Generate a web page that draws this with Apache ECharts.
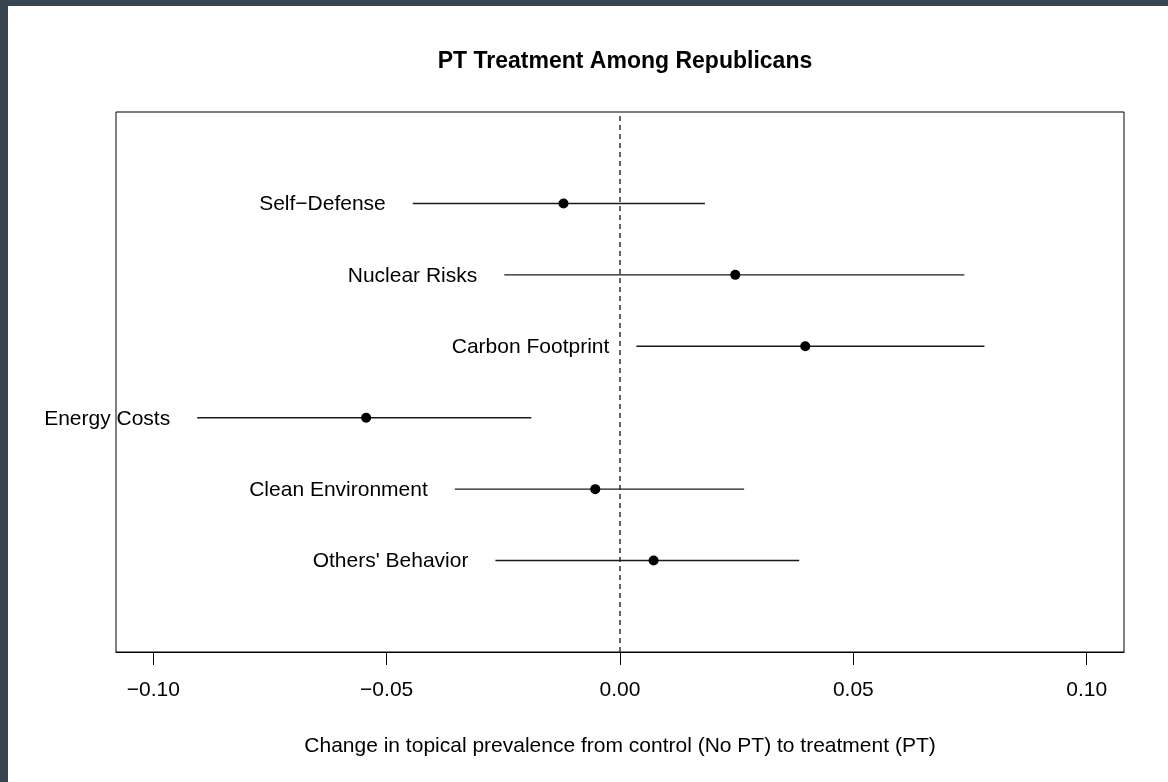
<!DOCTYPE html>
<html>
<head>
<meta charset="utf-8">
<title>PT Treatment Among Republicans</title>
<script src="https://cdn.jsdelivr.net/npm/echarts@6/dist/echarts.min.js"></script>
<style>
  html, body { margin: 0; padding: 0; background: #36454f; width: 1168px; height: 782px; overflow: hidden; }
  #chart { position: absolute; left: 8px; top: 6px; width: 1160px; height: 776px; background: #ffffff; }
</style>
</head>
<body>
<div id="chart"></div>
<script>
// Topics, listed from top to bottom
const topics = ['Self\u2212Defense', 'Nuclear Risks', 'Carbon Footprint', 'Energy Costs', 'Clean Environment', "Others' Behavior"];
// Point estimates of the change in topical prevalence
const estimates = [-0.0121, 0.0247, 0.0397, -0.0544, -0.0053, 0.0072];
// 95% interval bounds
const lowers = [-0.0444, -0.0248, 0.0035, -0.0906, -0.0354, -0.0267];
const uppers = [0.0182, 0.0738, 0.0781, -0.0190, 0.0266, 0.0384];
// Tick positions and labels on the x axis
const xTicks = [-0.10, -0.05, 0.00, 0.05, 0.10];
const xTickLabels = ['\u22120.10', '\u22120.05', '0.00', '0.05', '0.10'];

const FONT = '"Liberation Sans", Arial, Helvetica, sans-serif';

// Each topic sits at an integer height: top row highest
const rows = topics.map((t, i) => [estimates[i], topics.length - i, lowers[i], uppers[i], t]);

const chart = echarts.init(document.getElementById('chart'), null, { renderer: 'canvas' });

chart.setOption({
  animation: false,
  backgroundColor: '#ffffff',
  title: {
    text: 'PT Treatment Among Republicans',
    left: 612,
    top: 39,
    textAlign: 'center',
    textStyle: { fontFamily: FONT, fontWeight: 'bold', fontSize: 23, color: '#000' }
  },
  grid: {
    left: 108, top: 106, right: 44, bottom: 130,
    show: true, borderColor: '#000', borderWidth: 1, backgroundColor: 'transparent'
  },
  xAxis: {
    type: 'value',
    min: -0.108,
    max: 0.108,
    splitLine: { show: false },
    axisLine: { show: true, onZero: false, lineStyle: { color: '#000', width: 1 } },
    axisTick: { show: true, customValues: xTicks, length: 13, lineStyle: { color: '#000', width: 1 } },
    axisLabel: {
      customValues: xTicks,
      margin: 28,
      fontFamily: FONT, fontSize: 21, color: '#000',
      formatter: v => {
        const k = xTicks.findIndex(t => Math.abs(t - v) < 1e-9);
        return k >= 0 ? xTickLabels[k] : '';
      }
    },
    name: 'Change in topical prevalence from control (No PT) to treatment (PT)',
    nameLocation: 'middle',
    nameGap: 84,
    nameTextStyle: { fontFamily: FONT, fontSize: 21, color: '#000' }
  },
  yAxis: {
    type: 'value',
    min: -0.28,
    max: 7.28,
    show: false,
    splitLine: { show: false }
  },
  series: [
    {
      // reference line at zero
      type: 'line',
      data: [[0, -0.28], [0, 7.28]],
      symbol: 'none',
      silent: true,
      lineStyle: { color: '#222', width: 1.4, type: [5, 4] },
      z: 1
    },
    {
      type: 'custom',
      data: rows,
      encode: { x: 0, y: 1 },
      z: 2,
      renderItem: (params, api) => {
        const y = api.value(1);
        const pEst = api.coord([api.value(0), y]);
        const pLo = api.coord([api.value(2), y]);
        const pHi = api.coord([api.value(3), y]);
        const label = rows[params.dataIndex][4];
        return {
          type: 'group',
          children: [
            {
              type: 'line',
              shape: { x1: pLo[0], y1: pLo[1], x2: pHi[0], y2: pHi[1] },
              style: { stroke: '#1a1a1a', lineWidth: 1.4 }
            },
            {
              type: 'circle',
              shape: { cx: pEst[0], cy: pEst[1], r: 5 },
              style: { fill: '#000' }
            },
            {
              type: 'text',
              x: pLo[0] - 27,
              y: pLo[1] + 1,
              style: {
                text: label,
                align: 'right',
                verticalAlign: 'middle',
                fontFamily: FONT,
                fontSize: 21,
                fill: '#000'
              }
            }
          ]
        };
      }
    }
  ]
});
</script>
</body>
</html>
